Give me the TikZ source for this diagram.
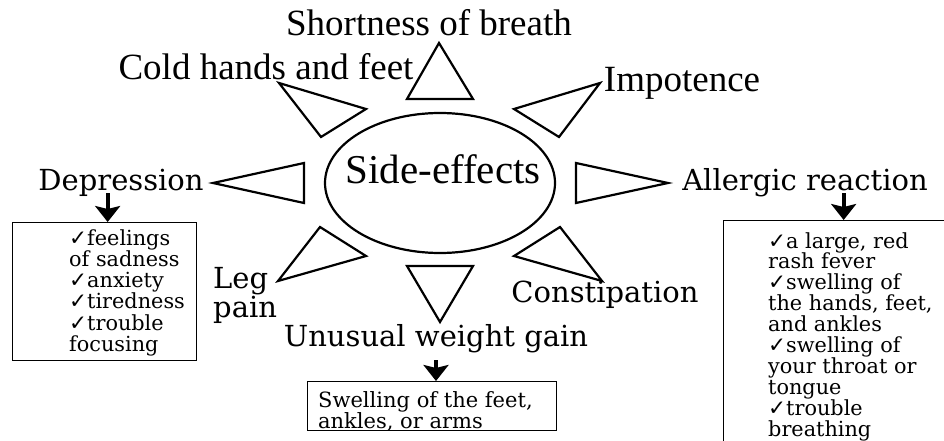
\documentclass[tikz,border=0pt]{standalone}
\usepackage{fontspec}
\setmainfont{Liberation Serif}
\newfontfamily\anchafont{DejaVu Serif}
\newfontfamily\simbolofont{DejaVu Sans}
\usetikzlibrary{shapes.geometric, arrows.meta, positioning}
\newcommand{\palomita}{{\simbolofont\bfseries\fontsize{21.5}{20}\selectfont\symbol{"2713}}}
\tikzset{
  etiqueta/.style={inner sep=0pt, anchor=base, font=\fontsize{37}{40}\selectfont},
  etiquetaancha/.style={inner sep=0pt, anchor=base, align=left,
    font=\anchafont\fontsize{29}{29.5}\selectfont},
  rayo/.style={draw=black, line width=2.2pt, line join=miter},
  caja/.style={rectangle, draw=black, line width=1.3pt, anchor=north west,
    inner sep=0pt},
  lista/.style={inner sep=0pt, anchor=north west, align=left,
    font=\anchafont\fontsize{20.8}{21.3}\selectfont},
  flecha/.style={-{Stealth[length=16pt, width=25pt, inset=3pt]}, line width=4pt, black}
}

\begin{document}
\begin{tikzpicture}[x=1pt, y=-1pt,
  centro/.style={ellipse, draw=black, line width=2.2pt, minimum width=230pt,
    minimum height=140pt, inner sep=0pt},
  titulo/.style={inner sep=0pt, anchor=base, font=\fontsize{41}{44}\selectfont}]

  \useasboundingbox (0,0) rectangle (944,441);
  \clip (0,0) rectangle (944,441);

  % --- Centro ---
  \node[centro] (efectos) at (440,183) {};
  \node[titulo] (titulo) at (443,183) {Side-effects};

  % --- Rayos ---
  \foreach \a/\b/\c in {
      {(439,43)}/{(407,99)}/{(473,99)},
      {(279,83)}/{(366,109)}/{(321,137)},
      {(600,83)}/{(514,109)}/{(559,137)},
      {(213,183)}/{(304,163)}/{(304,203)},
      {(668,183)}/{(576,163)}/{(576,203)},
      {(278,281)}/{(320,227)}/{(366,256)},
      {(440,322)}/{(407,266)}/{(473,266)},
      {(602,281)}/{(560,227)}/{(514,256)}} {
    \draw[rayo] \a -- \b -- \c -- cycle;
  }

  % --- Etiquetas ---
  \node[etiqueta] (falta) at (429,36) {Shortness of breath};
  \node[etiqueta] (frio) at (266,80) {Cold hands and feet};
  \node[etiqueta] (impot) at (682,92) {Impotence};
  \node[etiquetaancha] (depre) at (121,190) {Depression};
  \node[etiquetaancha] (alergia) at (805,190) {Allergic reaction};
  \node[etiquetaancha, anchor=north west] (pierna) at (213,267) {Leg\\pain};
  \node[etiquetaancha] (estren) at (605,302) {Constipation};
  \node[etiquetaancha] (peso) at (436,346) {Unusual weight gain};

  % --- Cajas ---
  \node[caja, minimum width=184pt, minimum height=138pt] (cajadep) at (12,222) {};
  \node[lista] (listadep) at (69,229) {\palomita feelings\\of sadness\\
    \palomita anxiety\\\palomita tiredness\\\palomita trouble\\focusing};

  \node[caja, minimum width=240pt, minimum height=250pt] (cajaalerg) at (723,220) {};
  \node[lista, font=\anchafont\fontsize{20.8}{20.9}\selectfont] (listaalerg)
    at (768,232) {\palomita a large, red\\rash fever\\
    \palomita swelling of\\the hands, feet,\\and ankles\\\palomita swelling of\\
    your throat or\\tongue\\\palomita trouble\\breathing};

  \node[caja, minimum width=249pt, minimum height=49pt] (cajapeso) at (307,381) {};
  \node[lista, font=\anchafont\fontsize{21}{19}\selectfont] (listapeso)
    at (318,391) {Swelling of the feet,\\ankles, or arms};

  % --- Flechas ---
  \draw[flecha] ([yshift=-3pt]depre.base -| cajadep.north) ++(3,0)
    -- ([xshift=3pt]cajadep.north);
  \draw[flecha] ([yshift=-3pt]alergia.base -| cajaalerg.north)
    -- (cajaalerg.north);
  \draw[flecha] ([yshift=-14pt]peso.base) -- (peso.base |- cajapeso.north);

\end{tikzpicture}
\end{document}
